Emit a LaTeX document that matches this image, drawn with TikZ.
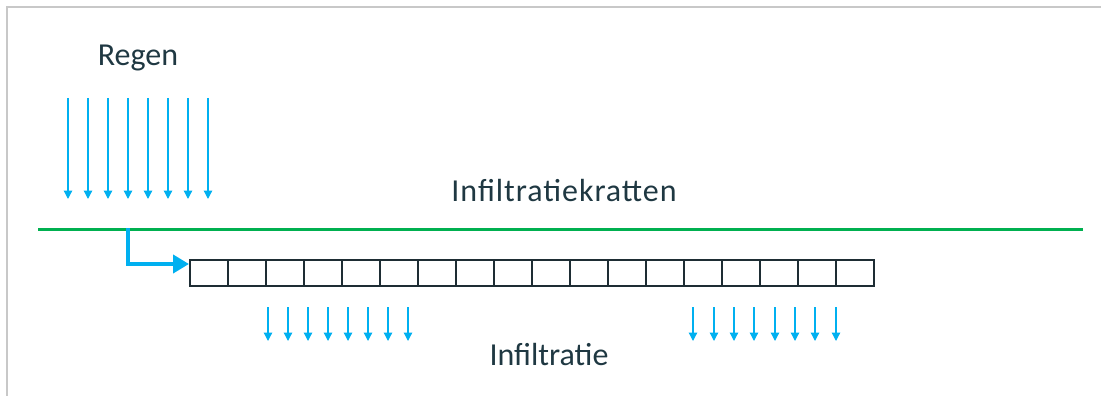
\documentclass[tikz,border=0pt]{standalone}
\usepackage{fontspec}
\setmainfont{Carlito}
\usetikzlibrary{arrows.meta}
\definecolor{rainblue}{RGB}{0,176,240}
\definecolor{grassgreen}{RGB}{0,176,80}
\definecolor{txtdark}{RGB}{31,56,66}
\definecolor{cratedark}{RGB}{30,45,52}
\definecolor{framegray}{RGB}{200,200,200}
\tikzset{
  lbl/.style={font=\fontsize{32}{38}\selectfont, text=txtdark, anchor=base, inner sep=0pt},
  droparrow/.style={draw=rainblue, line width=1.3pt, -{Triangle[width=8.5pt,length=8.5pt]}},
  flowarrow/.style={draw=rainblue, line width=4.5pt, -{Triangle[width=18pt,length=16pt]}},
  cell/.style={draw=cratedark, line width=1.6pt, minimum width=38pt, minimum height=26pt, inner sep=0pt, anchor=north west},
  ground/.style={draw=grassgreen, line width=3pt},
  frameline/.style={draw=framegray, line width=1.5pt}
}
\begin{document}
\begin{tikzpicture}[x=1pt,y=-1pt]
\useasboundingbox (0,0) rectangle (1101,396);
% frame
\coordinate (ftr) at (1101,7);
\coordinate (ftl) at (7,7);
\coordinate (fbl) at (7,396);
\draw[frameline] (ftr) -- (ftl) -- (fbl);
% labels
\node[lbl] (regen) at (138,66) {Regen};
\node[lbl] (kratten) at (564,201) {\addfontfeature{LetterSpace=3}Infiltratiekratten};
\node[lbl] (infil) at (549,365) {Infiltratie};
% rain
\foreach \i in {0,...,7} {
  \coordinate (rs\i) at (68+20*\i,98);
  \coordinate (re\i) at (68+20*\i,199);
  \draw[droparrow] (rs\i) -- (re\i);
}
% ground line
\coordinate (gl) at (38,229);
\coordinate (gr) at (1083,229);
\draw[ground] (gl) -- (gr);
% crate cells
\foreach \i in {1,...,18} {
  \node[cell] (c\i) at (189+38*\i-38,259) {};
}
% inflow arrow
\coordinate (fstart) at (128,228);
\coordinate (fbend) at (128,264);
\coordinate (fend) at ([yshift=-5pt]c1.north west);
\draw[flowarrow] (fstart) -- (fbend) -- (fend);
% infiltration arrows
\foreach \x [count=\i] in {268,288,308,328,348,368,388,408} {
  \coordinate (ls\i) at (\x,307);
  \coordinate (le\i) at (\x,341);
  \draw[droparrow] (ls\i) -- (le\i);
}
\foreach \x [count=\i] in {693,714,734,754,775,795,815,836} {
  \coordinate (ms\i) at (\x,307);
  \coordinate (me\i) at (\x,341);
  \draw[droparrow] (ms\i) -- (me\i);
}
\end{tikzpicture}
\end{document}
